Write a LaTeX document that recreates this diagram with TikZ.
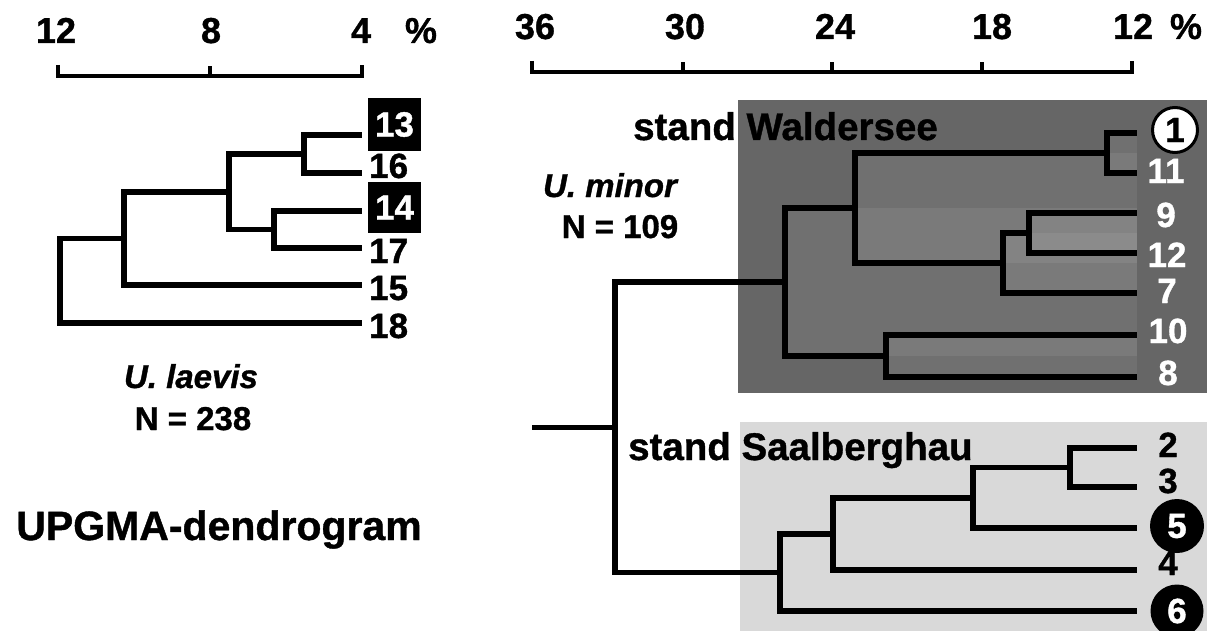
\documentclass[tikz,border=0pt]{standalone}
\usepackage{fontspec}
\setmainfont{Liberation Sans}[BoldFeatures={FakeBold=1}, BoldItalicFeatures={FakeBold=1}]
\newcommand\fsz[1]{\fontsize{#1}{#1}\selectfont\bfseries}
\begin{document}
\begin{tikzpicture}[x=1pt,y=-1pt,
  br/.style={line width=5.5pt},
  ax/.style={line width=4.5pt},
  lab/.style={font=\fsz{36}, inner sep=0pt, anchor=base},
  leaf/.style={font=\fsz{35}, inner sep=0pt, anchor=base},
  ttl/.style={font=\fsz{33}, inner sep=0pt, anchor=base},
  light/.style={white,opacity=0.07}]
\useasboundingbox (0,0) rectangle (1220,631);

% stand backgrounds
\fill[black!60] (738,100) rectangle (1207,393);
\fill[black!15] (740,422) rectangle (1207,631);
\fill[light] (785,208) rectangle (1137,356);
\fill[light] (855,153) rectangle (1137,263);
\fill[light] (1107,133) rectangle (1137,173);
\fill[light] (1003,233) rectangle (1137,293);
\fill[light] (1029,213) rectangle (1137,253);
\fill[light] (886,335) rectangle (1137,377);

% scale bars
\draw[ax] (58,65) -- (58,76) -- (362,76) -- (362,65);
\draw[ax] (210,76) -- (210,66);
\draw[ax] (532,61) -- (532,72) -- (1132,72) -- (1132,61);
\foreach \t in {683,832,982} \draw[ax] (\t,72) -- (\t,62);

\node[lab] (s12) at (56,43) {12};
\node[lab] (s8) at (211,43) {8};
\node[lab] (s4) at (361,43) {4};
\node[lab] (sp) at (421,43) {\%};
\node[lab] (r36) at (535,39) {36};
\node[lab] (r30) at (685,39) {30};
\node[lab] (r24) at (835,39) {24};
\node[lab] (r18) at (992,39) {18};
\node[lab] (r12) at (1133,39) {12};
\node[lab] (rp) at (1186,39) {\%};

% ---------- left tree (U. laevis)
\coordinate (L13) at (362,135);
\coordinate (L16) at (362,173);
\coordinate (L14) at (362,211);
\coordinate (L17) at (362,248);
\coordinate (L15) at (362,285);
\coordinate (L18) at (362,323);
\coordinate (a) at (304,154);
\coordinate (b) at (274,229.5);
\coordinate (c) at (229,192);
\coordinate (d) at (124,238.5);
\coordinate (e) at (60,281);
\draw[br] (a) |- (L13); \draw[br] (a) |- (L16);
\draw[br] (b) |- (L14); \draw[br] (b) |- (L17);
\draw[br] (c) |- (a);   \draw[br] (c) |- (b);
\draw[br] (d) |- (c);   \draw[br] (d) |- (L15);
\draw[br] (e) |- (d);   \draw[br] (e) |- (L18);

\node[leaf, anchor=base west] (t16) at (369,178) {16};
\node[leaf, anchor=base west] (t17) at (369,263) {17};
\node[leaf, anchor=base west] (t15) at (369,300) {15};
\node[leaf, anchor=base west] (t18) at (369,338) {18};
\node[font=\fsz{35}, fill=black, text=white, inner sep=0pt,
      minimum width=53pt, minimum height=53pt] (t13) at (394.5,124.5) {13};
\node[font=\fsz{35}, fill=black, text=white, inner sep=0pt,
      minimum width=53pt, minimum height=51pt] (t14) at (394.5,207.5) {14};

\node[ttl] (laev) at (191,388) {\itshape U. laevis};
\node[ttl] (n238) at (193,430) {N = 238};
\node[font=\fsz{41}, inner sep=0pt, anchor=base] (upgma) at (219,540) {UPGMA-dendrogram};

% ---------- right tree (U. minor)
\coordinate (R1) at (1137,133);
\coordinate (R11) at (1137,173);
\coordinate (R9) at (1137,213);
\coordinate (R12) at (1137,253);
\coordinate (R7) at (1137,293);
\coordinate (R10) at (1137,335);
\coordinate (R8) at (1137,377);
\coordinate (R2) at (1137,448);
\coordinate (R3) at (1137,487);
\coordinate (R5) at (1137,528);
\coordinate (R4) at (1137,570);
\coordinate (R6) at (1137,611);
\coordinate (p) at (1107,153);
\coordinate (q) at (1029,233);
\coordinate (r) at (1003,263);
\coordinate (s) at (855,208);
\coordinate (t) at (886,356);
\coordinate (u) at (785,282);
\coordinate (v) at (1070,467.5);
\coordinate (w) at (973,497.75);
\coordinate (xx) at (833,533.9);
\coordinate (yy) at (780,572.5);
\coordinate (z) at (615,427.25);
\coordinate (stub) at (532,427.25);

\draw[br] (p) |- (R1);  \draw[br] (p) |- (R11);
\draw[br] (q) |- (R9);  \draw[br] (q) |- (R12);
\draw[br] (r) |- (q);   \draw[br] (r) |- (R7);
\draw[br] (s) |- (p);   \draw[br] (s) |- (r);
\draw[br] (t) |- (R10); \draw[br] (t) |- (R8);
\draw[br] (u) |- (s);   \draw[br] (u) |- (t);
\draw[br] (v) |- (R2);  \draw[br] (v) |- (R3);
\draw[br] (w) |- (v);   \draw[br] (w) |- (R5);
\draw[br] (xx) |- (w);  \draw[br] (xx) |- (R4);
\draw[br] (yy) |- (xx); \draw[br] (yy) |- (R6);
\draw[br] (z) |- (u);   \draw[br] (z) |- (yy);
\draw[br] (stub) -- (z);

\node[ttl, font=\fsz{38.5}, anchor=base west] (wald) at (633,140) {stand Waldersee};
\node[ttl, font=\fsz{38.5}, anchor=base west] (saal) at (628,460) {stand Saalberghau};
\node[ttl] (umin) at (610,197) {\itshape U. minor};
\node[ttl] (n109) at (620,238) {N = 109};

\node[leaf, text=white] (t11) at (1166,183) {11};
\node[leaf, text=white] (t9) at (1166,227) {9};
\node[leaf, text=white] (t12) at (1167,267) {12};
\node[leaf, text=white] (t7) at (1167,303) {7};
\node[leaf, text=white] (t10) at (1168,343) {10};
\node[leaf, text=white] (t8) at (1168,385) {8};
\node[leaf] (t2) at (1168,457) {2};
\node[leaf] (t3) at (1168,493) {3};
\node[leaf] (t4) at (1168,575) {4};
\node[circle, draw, line width=3pt, fill=white, inner sep=0pt,
      minimum size=45pt, font=\fsz{35}] (t1) at (1175,130) {1};
\node[circle, fill=black, text=white, inner sep=0pt,
      minimum size=54pt, font=\fsz{35}] (t5) at (1177,526) {5};
\node[circle, fill=black, text=white, inner sep=0pt,
      minimum size=53pt, font=\fsz{35}] (t6) at (1177,611) {6};
\end{tikzpicture}
\end{document}
